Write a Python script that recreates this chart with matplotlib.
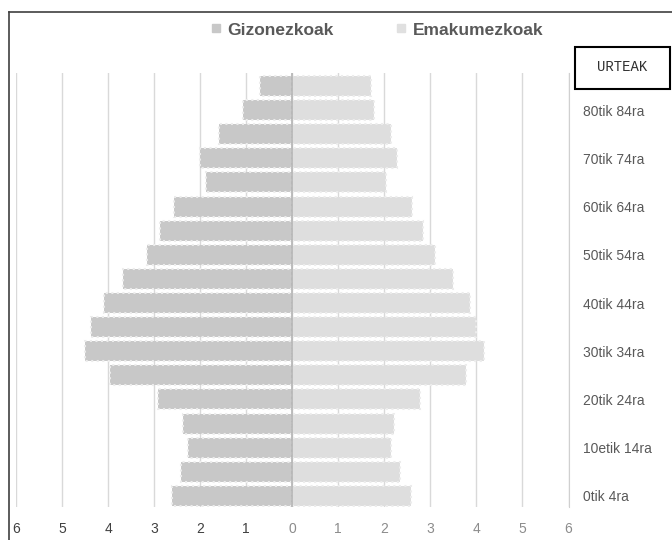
import matplotlib
matplotlib.use("Agg")
import matplotlib.pyplot as plt
from matplotlib.lines import Line2D
import numpy as np

# --- datuak (ehunekoak), behetik gora: 0-4 ... 85+ ---
adin_taldeak = ["0tik 4ra", "5etik 9ra", "10etik 14ra", "15etik 19ra", "20tik 24ra",
                "25etik 29ra", "30tik 34ra", "35etik 39ra", "40tik 44ra", "45etik 49ra",
                "50tik 54ra", "55etik 59ra", "60tik 64ra", "65etik 69ra", "70tik 74ra",
                "75etik 79ra", "80tik 84ra", "85 eta gehiago"]
gizonezkoak = [2.62, 2.41, 2.26, 2.37, 2.91, 3.96, 4.50, 4.37, 4.09, 3.67,
               3.15, 2.87, 2.57, 1.87, 2.00, 1.59, 1.07, 0.70]
emakumezkoak = [2.57, 2.34, 2.15, 2.20, 2.78, 3.78, 4.17, 4.00, 3.87, 3.50,
                3.09, 2.85, 2.61, 2.04, 2.28, 2.15, 1.78, 1.70]
x_ticks = [-6, -5, -4, -3, -2, -1, 0, 1, 2, 3, 4, 5, 6]

plt.rcParams["font.family"] = ["Liberation Sans", "DejaVu Sans"]

fig = plt.figure(figsize=(6.72, 5.4), dpi=100)
ax = fig.add_axes([16 / 672, 33 / 540, 552.5 / 672, 434 / 540])

y = np.arange(len(adin_taldeak))
ax.barh(y, [-v for v in gizonezkoak], height=0.83, color="#c8c8c8",
        edgecolor="#ececec", linestyle=":", linewidth=1.5, zorder=2)
ax.barh(y, emakumezkoak, height=0.83, color="#dedede",
        edgecolor="#ececec", linestyle=":", linewidth=1.5, zorder=2)
ax.axvline(0, color="#b4b4b4", lw=1.2, zorder=3)

ax.set_xlim(-6, 6)
ax.set_ylim(-0.46, len(adin_taldeak) - 1 + 0.54)
ax.set_xticks(x_ticks)
ax.set_xticklabels([str(abs(t)) for t in x_ticks])
for t, lab in zip(x_ticks, ax.get_xticklabels()):
    lab.set_color("#404040" if t < 0 else "#8c8c8c")
ax.tick_params(axis="x", length=0, pad=11, labelsize=10)
ax.grid(axis="x", color="#d9d9d9", lw=1, zorder=0)
ax.set_axisbelow(True)

ax.yaxis.tick_right()
ax.set_yticks(y[::2])
ax.set_yticklabels(adin_taldeak[::2])
ax.tick_params(axis="y", length=0, pad=10.5, labelsize=10, labelcolor="#595959")

for s in ["top", "left", "bottom"]:
    ax.spines[s].set_visible(False)
ax.spines["right"].set_color("#d0d0d0")

# legenda
ax.legend(handles=[
    Line2D([], [], marker="s", ls="", color="#c8c8c8", markersize=5.5, label="Gizonezkoak"),
    Line2D([], [], marker="s", ls="", color="#e0e0e0", markersize=5.5, label="Emakumezkoak")],
    loc="center", bbox_to_anchor=((377 - 16) / 552.5, 1 + 43 / 434), bbox_transform=ax.transAxes,
    ncol=2, frameon=False, handlelength=0.6, handletextpad=0.35, columnspacing=3.6,
    prop={"weight": "bold", "size": 12.5}, labelcolor="#595959")

# URTEAK koadroa
fig.text(622 / 672, 1 - 67 / 540, "URTEAK", ha="center", va="center",
         family="Liberation Mono", fontsize=10, color="#303030")
fig.add_artist(plt.Rectangle((575 / 672, 1 - 89 / 540), 95 / 672, 42 / 540,
                             transform=fig.transFigure, fill=False, ec="black", lw=1.5))

# kanpoko markoa
fig.add_artist(Line2D([9 / 672, 9 / 672], [0, 1 - 12 / 540], transform=fig.transFigure,
                      color="#404040", lw=1.2))
fig.add_artist(Line2D([9 / 672, 1], [1 - 12 / 540, 1 - 12 / 540], transform=fig.transFigure,
                      color="#404040", lw=1.2))

fig.savefig("out.png", dpi=100)
